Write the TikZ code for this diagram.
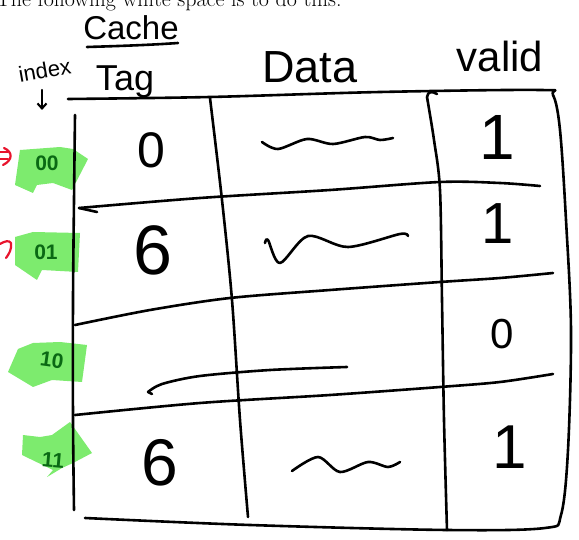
\documentclass[tikz,border=0pt]{standalone}
\usepackage{fontspec}
\newfontfamily\hand{Liberation Sans}
\usetikzlibrary{arrows.meta}
\definecolor{hl}{RGB}{125,235,110}
\definecolor{idx}{RGB}{10,105,20}
\definecolor{redink}{RGB}{232,20,45}
\tikzset{
  ink/.style={line width=2.6pt, line cap=round, line join=round},
  thinink/.style={line width=2.1pt, line cap=round, line join=round},
  redstroke/.style={draw=redink, line width=2.2pt, line cap=round, line join=round},
  hltag/.style={fill=hl, draw=none},
  idxlab/.style={text=idx, font=\hand\bfseries\fontsize{21}{21}\selectfont, inner sep=0pt},
  cell/.style={inner sep=0pt, anchor=center},
  head/.style={inner sep=0pt, anchor=base},
}
\begin{document}
\begin{tikzpicture}[x=1pt,y=-1pt]
\useasboundingbox (0,0) rectangle (579,540);
\clip (0,0) rectangle (579,540);

% caption cut at top
\node[anchor=base west, inner sep=0pt, font=\fontsize{22}{22}\selectfont] (caption) at (-4,7) {The following white space is to do this.};

% green highlighter patches
\fill[hltag] (20,150) -- (60,147) -- (73,149) -- (88,159) -- (72,190) -- (53,183) -- (37,185) -- (33,193) -- (15,185) -- cycle;
\fill[hltag] (15,237) -- (33,232) -- (80,233) -- (78,272) -- (42,270) -- (37,280) -- (15,265) -- cycle;
\fill[hltag] (18,349) -- (33,343) -- (60,342) -- (87,345) -- (82,382) -- (52,380) -- (33,387) -- (8,372) -- cycle;
\fill[hltag] (23,435) -- (40,437) -- (52,435) -- (70,422) -- (92,453) -- (73,463) -- (62,468) -- (47,477) -- (53,470) -- (22,455) -- cycle;

% index labels
\node[idxlab] (i00) at (47,163) {00};
\node[idxlab] (i01) at (46,252) {01};
\node[idxlab, rotate=-8] (i10) at (52,360) {10};
\node[idxlab, rotate=-5] (i11) at (53,460) {11};

% red marks
\draw[redstroke] (0,152) -- (8,152) (0,159) -- (8,159);
\draw[redstroke] (4,148) .. controls (13,152) and (13,160) .. (3,165);
\draw[redstroke] (0,244) .. controls (5,241) and (9,240) .. (11,243) .. controls (12,249) and (9,254) .. (6,258);

% headers
\node[head, font=\hand\fontsize{33}{33}\selectfont] (cache) at (131,40) {Cache};
\draw[ink] (87,47) .. controls (120,46) and (150,45) .. (178,43);
\node[head, font=\hand\fontsize{22}{22}\selectfont, rotate=10] (index) at (46,78) {index};
\coordinate (arrS) at (42,90);
\coordinate (arrE) at (42,110);
\draw[thinink, -{Straight Barb[length=5pt,width=9pt]}] (arrS) -- (arrE);
\node[head, font=\hand\fontsize{36}{36}\selectfont] (tag) at (125,91) {Tag};
\node[head, font=\hand\fontsize{45}{45}\selectfont] (data) at (310,83) {Data};
\node[head, font=\hand\fontsize{42}{42}\selectfont] (valid) at (500,72) {valid};

% table outline: top, right, bottom
\draw[ink] plot[smooth, tension=0.55] coordinates {(68,99) (210,97) (380,92) (540,90) (553,95) (560,130) (566,220) (571,330) (568,450) (561,515) (545,528) (447,530) (250,525) (85,518)};
% left border
\draw[ink] plot[smooth] coordinates {(75,115) (74,200) (73,300) (73,420) (74,510)};
% column dividers
\draw[ink] plot[smooth] coordinates {(210,98) (222,200) (232,300) (240,420) (248,517)};
\draw[ink] (437,94) .. controls (432,91) and (428,91) .. (427,97);
\draw[ink] plot[smooth] coordinates {(427,97) (434,140) (440,190) (442,300) (444,420) (447,530)};
% row lines
\draw[ink] (97,212) -- (79,208);
\draw[ink] plot[smooth] coordinates {(79,208) (200,198) (330,190) (440,182) (500,183) (540,186)};
\draw[ink] plot[smooth] coordinates {(75,325) (150,310) (230,298) (330,290) (440,282) (500,278) (553,273)};
\draw[ink] plot[smooth] coordinates {(75,415) (200,403) (330,395) (440,387) (500,382) (553,374)};

% data squiggles
\draw[ink] plot[smooth] coordinates {(262,142) (278,149) (307,139) (333,144) (365,137) (380,140) (393,138)};
\draw[ink] plot[smooth] coordinates {(265,243) (268,240) (280,263) (308,236) (348,247) (400,234) (408,236)};
\draw[ink] (152,394) -- (148,392);
\draw[ink] plot[smooth] coordinates {(148,392) (162,384) (200,376) (270,370) (347,367)};
\draw[ink] plot[smooth] coordinates {(292,471) (318,457) (340,472) (368,462) (388,467) (400,462)};

% cell contents
\node[cell, font=\hand\fontsize{50}{50}\selectfont] (t00) at (151,150) {0};
\node[cell, font=\hand\fontsize{70}{70}\selectfont] (t01) at (153,250) {6};
\node[cell, font=\hand\fontsize{66}{66}\selectfont] (t11) at (160,463) {6};
\node[cell, font=\hand\fontsize{64}{64}\selectfont] (v00) at (497,137) {1};
\node[cell, font=\hand\fontsize{58}{58}\selectfont] (v01) at (498,224) {1};
\node[cell, font=\hand\fontsize{42}{42}\selectfont] (v10) at (502,334) {0};
\node[cell, font=\hand\fontsize{62}{62}\selectfont] (v11) at (510,447) {1};
\end{tikzpicture}
\end{document}
